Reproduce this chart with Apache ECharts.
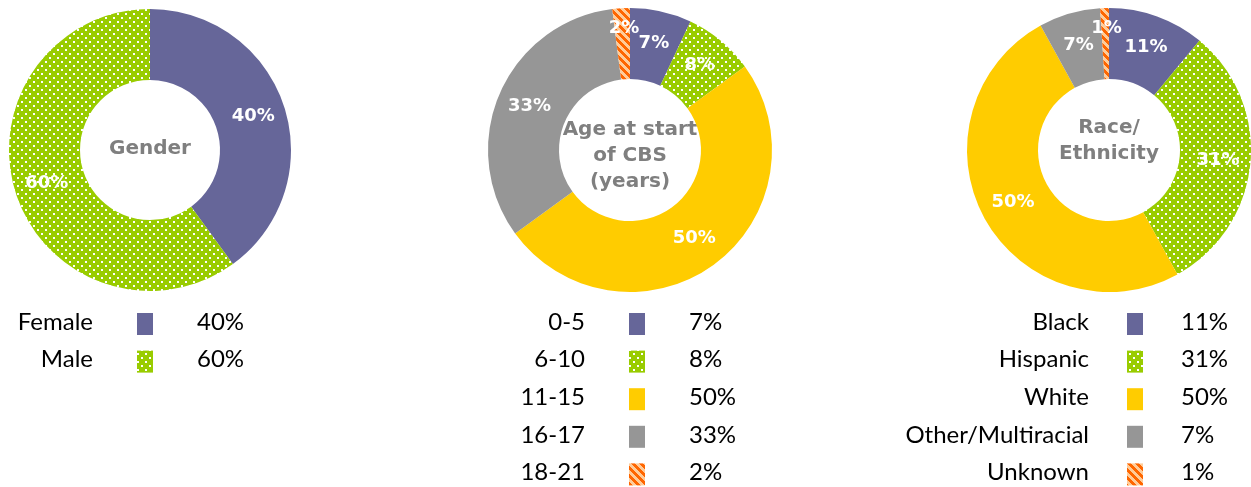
<!DOCTYPE html>
<html>
<head>
<meta charset="utf-8">
<script src="https://cdn.jsdelivr.net/npm/echarts@6/dist/echarts.min.js"></script>
<style>
html,body{margin:0;padding:0;background:#fff;}
#chart{width:1251px;height:487px;}
</style>
</head>
<body>
<div id="chart"></div>
<script>
// ---- data ----
var genderLabels = ['Female', 'Male'];
var genderValues = [40, 60];
var ageLabels = ['0-5', '6-10', '11-15', '16-17', '18-21'];
var ageValues = [7, 8, 50, 33, 2];
var raceLabels = ['Black', 'Hispanic', 'White', 'Other/Multiracial', 'Unknown'];
var raceValues = [11, 31, 50, 7, 1];
var centerTitles = ['Gender', 'Age at start\nof CBS\n(years)', 'Race/\nEthnicity'];

// ---- styles ----
function dotPattern() {
  var c = document.createElement('canvas'); c.width = 8; c.height = 8;
  var g = c.getContext('2d');
  g.fillStyle = '#99CC00'; g.fillRect(0, 0, 8, 8);
  g.fillStyle = '#ffffff'; g.fillRect(1, 1, 2, 2); g.fillRect(5, 5, 2, 2);
  return { image: c, repeat: 'repeat' };
}
function stripePattern() {
  var c = document.createElement('canvas'); c.width = 8; c.height = 8;
  var g = c.getContext('2d');
  g.fillStyle = '#FFCC99'; g.fillRect(0, 0, 8, 8);
  g.fillStyle = '#FF6600';
  for (var y = 0; y < 8; y++) {
    for (var x = 0; x < 8; x++) {
      if (((x - y) % 8 + 8) % 8 < 4) g.fillRect(x, y, 1, 1);
    }
  }
  return { image: c, repeat: 'repeat' };
}
var fills = ['#666699', dotPattern(), '#FFCC00', '#969696', stripePattern()];

var pies = [
  { labels: genderLabels, values: genderValues, cx: 150, cy: 150, r: [70, 141], title: centerTitles[0], ty: 149,
    legend: { right: 93, marker: 137, value: 197 } },
  { labels: ageLabels, values: ageValues, cx: 630, cy: 150, r: [71, 142], title: centerTitles[1], ty: 156,
    legend: { right: 585, marker: 629, value: 689 } },
  { labels: raceLabels, values: raceValues, cx: 1109, cy: 150, r: [71, 142], title: centerTitles[2], ty: 141,
    legend: { right: 1089, marker: 1127, value: 1181 } }
];

var series = [];
var graphics = [];
var rowTop = 313, rowStep = 37.6;
pies.forEach(function (p) {
  series.push({
    type: 'pie',
    center: [p.cx, p.cy],
    radius: p.r,
    startAngle: 90,
    clockwise: true,
    avoidLabelOverlap: false,
    minShowLabelAngle: 0,
    labelLayout: { hideOverlap: false },
    silent: true,
    animation: false,
    itemStyle: { borderWidth: 0 },
    label: {
      show: true, position: 'inside', formatter: '{c}%',
      color: '#ffffff', fontFamily: 'DejaVu Sans', fontWeight: 'bold', fontSize: 18
    },
    labelLine: { show: false },
    data: p.values.map(function (v, i) {
      var d = { name: p.labels[i], value: v, itemStyle: { color: fills[i] } };
      if (v < 3) d.label = { offset: [1, -12] };
      return d;
    })
  });
  graphics.push({
    type: 'text', silent: true, position: [p.cx, p.ty],
    style: {
      text: p.title, x: 0, y: 0, textAlign: 'center', textVerticalAlign: 'middle',
      fill: '#7F7F7F', font: 'bold 20px "DejaVu Sans"', lineHeight: 26
    }
  });
  p.labels.forEach(function (lab, i) {
    var top = rowTop + i * rowStep;
    graphics.push({
      type: 'text', silent: true, position: [p.legend.right, top + 9],
      style: { text: lab, textAlign: 'right', textVerticalAlign: 'middle', fill: '#000000', font: '24px Lato' }
    });
    graphics.push({
      type: 'rect', silent: true, shape: { x: p.legend.marker, y: top, width: 16, height: 22 },
      style: { fill: fills[i] }
    });
    graphics.push({
      type: 'text', silent: true, position: [p.legend.value, top + 9],
      style: { text: p.values[i] + '%', textAlign: 'left', textVerticalAlign: 'middle', fill: '#000000', font: '24px Lato' }
    });
  });
});

var chart = echarts.init(document.getElementById('chart'), null, { renderer: 'canvas' });
chart.setOption({
  animation: false,
  backgroundColor: '#ffffff',
  series: series,
  graphic: graphics
});
</script>
</body>
</html>
